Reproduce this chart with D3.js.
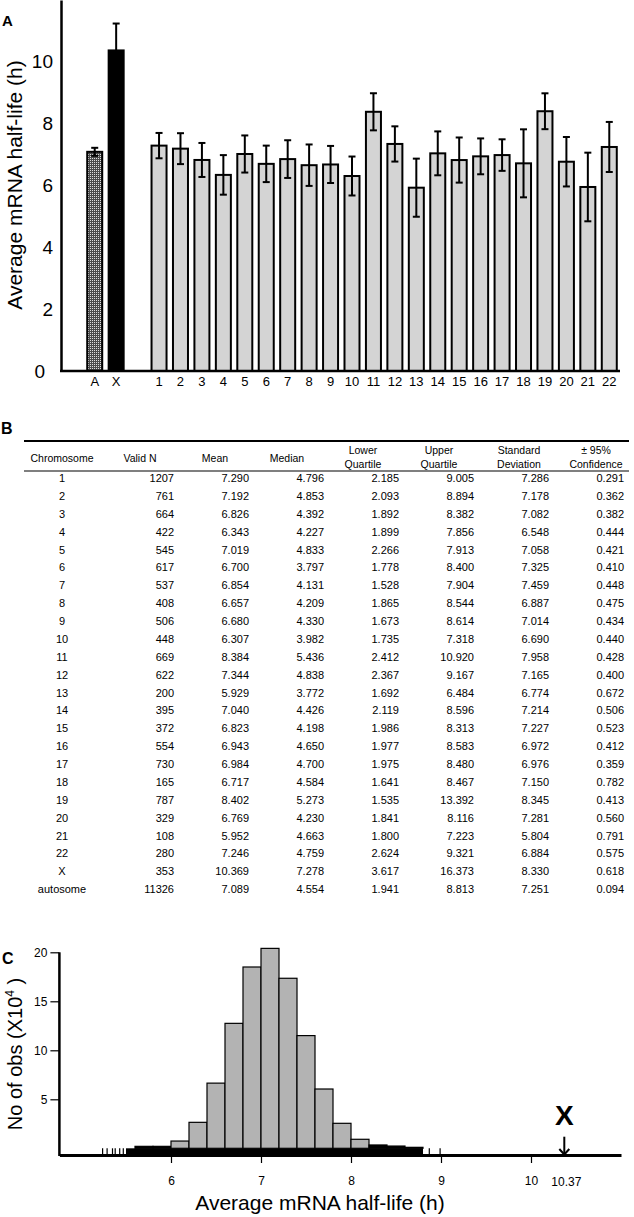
<!DOCTYPE html>
<html>
<head>
<meta charset="utf-8">
<script src="https://cdn.jsdelivr.net/npm/d3@7"></script>
<style>
body { margin: 0; background: #fff; }
text { font-family: "Liberation Sans", Arial, sans-serif; fill: #000; }
</style>
</head>
<body>
<script>
// ---- table data (panel B) ----
const chromosomes = ["1","2","3","4","5","6","7","8","9","10","11","12","13","14","15","16","17","18","19","20","21","22","X","autosome"];
const validN = [1207,761,664,422,545,617,537,408,506,448,669,622,200,395,372,554,730,165,787,329,108,280,353,11326];
const meanVals = [7.290,7.192,6.826,6.343,7.019,6.700,6.854,6.657,6.680,6.307,8.384,7.344,5.929,7.040,6.823,6.943,6.984,6.717,8.402,6.769,5.952,7.246,10.369,7.089];
const medianVals = [4.796,4.853,4.392,4.227,4.833,3.797,4.131,4.209,4.330,3.982,5.436,4.838,3.772,4.426,4.198,4.650,4.700,4.584,5.273,4.230,4.663,4.759,7.278,4.554];
const lowerQ = [2.185,2.093,1.892,1.899,2.266,1.778,1.528,1.865,1.673,1.735,2.412,2.367,1.692,2.119,1.986,1.977,1.975,1.641,1.535,1.841,1.800,2.624,3.617,1.941];
const upperQ = [9.005,8.894,8.382,7.856,7.913,8.400,7.904,8.544,8.614,7.318,10.920,9.167,6.484,8.596,8.313,8.583,8.480,8.467,13.392,8.116,7.223,9.321,16.373,8.813];
const stdDev = [7.286,7.178,7.082,6.548,7.058,7.325,7.459,6.887,7.014,6.690,7.958,7.165,6.774,7.214,7.227,6.972,6.976,7.150,8.345,7.281,5.804,6.884,8.330,7.251];
const conf95 = [0.291,0.362,0.382,0.444,0.421,0.410,0.448,0.475,0.434,0.440,0.428,0.400,0.672,0.506,0.523,0.412,0.359,0.782,0.413,0.560,0.791,0.575,0.618,0.094];
const headers = [["Chromosome"],["Valid N"],["Mean"],["Median"],["Lower","Quartile"],["Upper","Quartile"],["Standard","Deviation"],["\u00b1 95%","Confidence"]];

// ---- panel A bars ----
const barCats = ["A","X","1","2","3","4","5","6","7","8","9","10","11","12","13","14","15","16","17","18","19","20","21","22"];
// error bar half-lengths
const barErr = [0.13,0.87,0.41,0.50,0.55,0.64,0.60,0.59,0.61,0.67,0.60,0.63,0.60,0.57,0.94,0.71,0.73,0.58,0.51,1.10,0.58,0.80,1.11,0.81];
const barMeans = barCats.map(c => {
    let key = c == "A" ? "autosome" : c;
    return meanVals[chromosomes.indexOf(key)];
});
const yTicksA = [0,2,4,6,8,10];

// ---- panel C histogram (x10^4) ----
const binStarts = [5.6,5.8,6.0,6.2,6.4,6.6,6.8,7.0,7.2,7.4,7.6,7.8,8.0,8.2,8.4,8.6];
const binCounts = [0.2,0.2,0.74,2.65,6.65,12.75,18.5,20.4,17.35,11.5,6.05,2.55,0.92,0.34,0.23,0.1];
const binWidth = 0.2;
const rugLow = [5.24,5.29,5.35,5.38,5.43,5.47];
const rugHigh = [8.87,8.99];
const rugDense = [5.5,8.8];
const xTicksC = [6,7,8,9,10];
const yTicksC = [5,10,15,20];
const xMean = 10.37;

const svg = d3.select("body").append("svg")
    .attr("width", 634)
    .attr("height", 1217);

const defs = svg.append("defs");
const pat = defs.append("pattern")
    .attr("id", "dots")
    .attr("width", 2).attr("height", 2)
    .attr("patternUnits", "userSpaceOnUse");
pat.append("rect").attr("width", 2).attr("height", 2).attr("fill", "#4d4d4d");
pat.append("rect").attr("width", 1).attr("height", 1).attr("fill", "#e0e0e0");

// =========== Panel A ===========
let xA = d3.scaleBand()
    .domain(["A","X","gap"].concat(barCats.slice(2)))
    .range([84, 620])
    .paddingInner(0.3)
    .paddingOuter(0.15);
let yA = d3.scaleLinear().domain([0, 12]).range([371, 0]);

svg.append("text").text("A")
    .attr("x", 2).attr("y", 26)
    .attr("font-size", 15).attr("font-weight", "bold");

svg.append("text").text("Average mRNA half-life (h)")
    .attr("transform", "translate(22,185) rotate(-90)")
    .attr("text-anchor", "middle")
    .attr("font-size", 21);

svg.selectAll(".barA").data(barCats).enter().append("rect")
    .attr("class", "barA")
    .attr("x", d => xA(d))
    .attr("width", xA.bandwidth())
    .attr("y", (d, i) => yA(barMeans[i]))
    .attr("height", (d, i) => yA(0) - yA(barMeans[i]))
    .attr("fill", d => d == "A" ? "url(#dots)" : (d == "X" ? "#000" : "#d4d4d4"))
    .attr("stroke", "#000")
    .attr("stroke-width", 2);

let errG = svg.append("g").attr("stroke", "#000").attr("stroke-width", 2);
barCats.forEach((c, i) => {
    let cx = xA(c) + xA.bandwidth() / 2;
    let top = yA(barMeans[i] + barErr[i]);
    let bot = yA(barMeans[i] - barErr[i]);
    errG.append("line").attr("x1", cx).attr("x2", cx).attr("y1", top).attr("y2", bot);
    errG.append("line").attr("x1", cx - 3.5).attr("x2", cx + 3.5).attr("y1", top).attr("y2", top);
    errG.append("line").attr("x1", cx - 3.5).attr("x2", cx + 3.5).attr("y1", bot).attr("y2", bot);
});

let axA = svg.append("g")
    .attr("transform", "translate(61,0)")
    .call(d3.axisLeft(yA).tickValues(yTicksA).tickSize(0).tickSizeOuter(0).tickPadding(8));
axA.select(".domain").attr("stroke-width", 2.5);
axA.selectAll("text").attr("font-size", 19)
    .attr("dx", d => d == 0 ? -8 : 0);

let axAx = svg.append("g")
    .attr("transform", "translate(0," + yA(0) + ")")
    .call(d3.axisBottom(xA).tickSize(0).tickPadding(6));
axAx.select(".domain").remove();
axAx.selectAll(".tick").filter(d => d == "gap").remove();
axAx.selectAll("text").attr("font-size", 13);
svg.append("line")
    .attr("x1", 60).attr("x2", xA.range()[1])
    .attr("y1", yA(0)).attr("y2", yA(0))
    .attr("stroke", "#000").attr("stroke-width", 2.7);

// =========== Panel B (table) ===========
svg.append("text").text("B")
    .attr("x", 1).attr("y", 434)
    .attr("font-size", 16).attr("font-weight", "bold");

const colRight = [null, 174, 249, 324, 399, 474, 549, 624];
const colHead = [62, 140, 215, 287, 363, 439, 519, 596];
const rowTop = 478.3, rowStep = 17.87;

svg.append("line").attr("x1", 24).attr("x2", 629).attr("y1", 441).attr("y2", 441)
    .attr("stroke", "#000").attr("stroke-width", 2.2);
svg.append("line").attr("x1", 24).attr("x2", 629).attr("y1", 471).attr("y2", 471)
    .attr("stroke", "#000").attr("stroke-width", 1.2);

headers.forEach((h, j) => {
    let t = svg.append("text")
        .attr("text-anchor", "middle")
        .attr("font-size", 10.5);
    if (h.length == 1) {
        t.append("tspan").attr("x", colHead[j]).attr("y", 461.5).text(h[0]);
    } else {
        t.append("tspan").attr("x", colHead[j]).attr("y", 453.5).text(h[0]);
        t.append("tspan").attr("x", colHead[j]).attr("y", 468).text(h[1]);
    }
});

let f3 = d3.format(".3f");
let columns = [chromosomes, validN, meanVals, medianVals, lowerQ, upperQ, stdDev, conf95];
chromosomes.forEach((c, i) => {
    let y = rowTop + i * rowStep + 3.8;
    columns.forEach((col, j) => {
        let v = col[i];
        let s = j == 0 ? v : (j == 1 ? String(v) : f3(v));
        svg.append("text")
            .attr("x", j == 0 ? colHead[0] : colRight[j])
            .attr("y", y)
            .attr("text-anchor", j == 0 ? "middle" : "end")
            .attr("font-size", 11)
            .text(s);
    });
});

// =========== Panel C ===========
let xC = d3.scaleLinear().domain([4.76, 11.0]).range([59.4, 621]);
let yC = d3.scaleLinear().domain([0, 20]).range([1148.3, 952.3]);
const axisY = 1155;

svg.append("text").text("C")
    .attr("x", 2).attr("y", 964)
    .attr("font-size", 16).attr("font-weight", "bold");

let titleC = svg.append("text")
    .attr("transform", "translate(22,1054) rotate(-90)")
    .attr("text-anchor", "middle")
    .attr("font-size", 20);
titleC.append("tspan").text("No of obs (X10");
titleC.append("tspan").text("4").attr("font-size", 12).attr("dy", -8);
titleC.append("tspan").text(" )").attr("dy", 8);

// rug under histogram
svg.append("rect")
    .attr("x", xC(rugDense[0]))
    .attr("width", xC(rugDense[1]) - xC(rugDense[0]))
    .attr("y", yC(0)).attr("height", axisY - yC(0))
    .attr("fill", "#000");
svg.selectAll(".rug").data(rugLow.concat(rugHigh)).enter().append("line")
    .attr("class", "rug")
    .attr("x1", d => xC(d)).attr("x2", d => xC(d))
    .attr("y1", yC(0)).attr("y2", axisY)
    .attr("stroke", "#000").attr("stroke-width", 1.2);

svg.selectAll(".binC").data(binStarts).enter().append("rect")
    .attr("class", "binC")
    .attr("x", d => xC(d))
    .attr("width", d => xC(d + binWidth) - xC(d))
    .attr("y", (d, i) => yC(binCounts[i]))
    .attr("height", (d, i) => yC(0) - yC(binCounts[i]))
    .attr("fill", (d, i) => binCounts[i] < 0.5 ? "#000" : "#b3b3b3")
    .attr("stroke", "#000")
    .attr("stroke-width", 1.2);

// axes
let axCy = svg.append("g")
    .attr("transform", "translate(" + xC.range()[0] + ",0)")
    .call(d3.axisLeft(yC).tickValues(yTicksC).tickSize(9).tickSizeOuter(0).tickPadding(3));
axCy.select(".domain").attr("d", "M0," + yC(20) + "V" + (axisY + 1)).attr("stroke-width", 2.5);
axCy.selectAll("text").attr("font-size", 12);
axCy.selectAll(".tick line").attr("stroke-width", 1.2);

let axCx = svg.append("g")
    .attr("transform", "translate(0," + axisY + ")")
    .call(d3.axisBottom(xC).tickValues(xTicksC).tickFormat(d3.format("d")).tickSize(8).tickSizeOuter(0).tickPadding(13));
axCx.select(".domain").attr("stroke-width", 3);
axCx.selectAll("text").attr("font-size", 12);
axCx.selectAll(".tick line").attr("stroke-width", 1.2);

svg.append("text").text(String(xMean))
    .attr("x", xC(xMean) + 2).attr("y", 1185.5)
    .attr("text-anchor", "middle").attr("font-size", 12);

// arrow marking X chromosome
let ax = xC(xMean);
svg.append("line").attr("x1", ax).attr("x2", ax).attr("y1", 1136.7).attr("y2", axisY)
    .attr("stroke", "#000").attr("stroke-width", 2);
svg.append("path")
    .attr("d", "M" + (ax - 5) + "," + (axisY - 6) + "L" + ax + "," + (axisY - 0.5) + "L" + (ax + 5) + "," + (axisY - 6))
    .attr("fill", "none").attr("stroke", "#000").attr("stroke-width", 2);
svg.append("text").text("X")
    .attr("x", ax).attr("y", 1125)
    .attr("text-anchor", "middle")
    .attr("font-size", 28).attr("font-weight", "bold");

svg.append("text").text("Average mRNA half-life (h)")
    .attr("x", 320).attr("y", 1210)
    .attr("text-anchor", "middle")
    .attr("font-size", 21);
</script>
</body>
</html>
